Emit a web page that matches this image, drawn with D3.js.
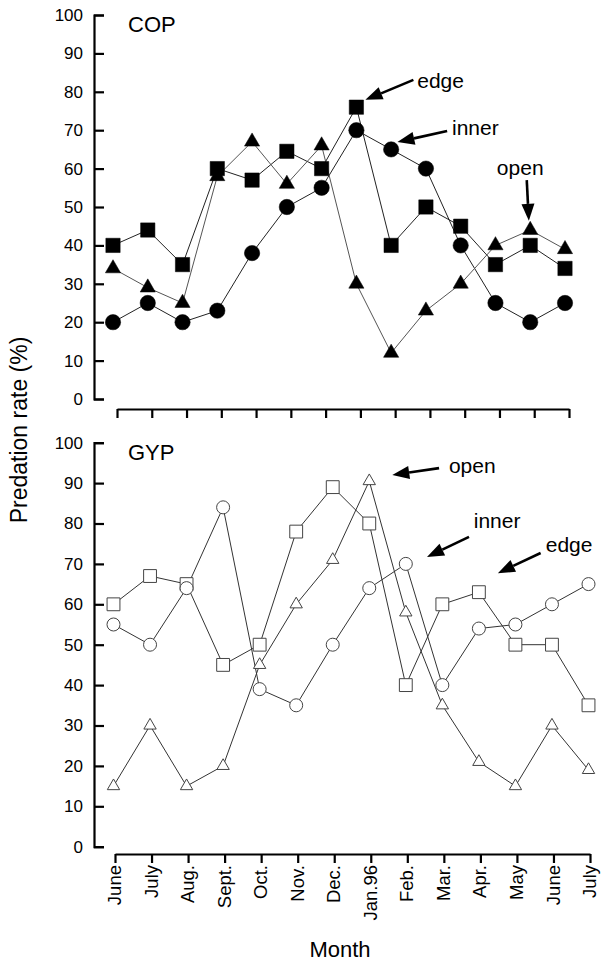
<html>
<head>
<meta charset="UTF-8">
<title>Predation rate</title>
<script src="https://cdnjs.cloudflare.com/ajax/libs/d3/7.8.5/d3.min.js"></script>
<style type="text/css">
    body { margin:0; background:#fff; }
    svg text { font-family: "Liberation Sans", Arial, Helvetica, sans-serif; fill:#000; }
    .axis path, .axis line { stroke:#000; stroke-width:2.2; }
    .axis text { font-size:17px; }
    .xlab text { font-size:18.5px; }
</style>
</head>
<body>
<svg id="chart" width="601" height="961"></svg>
<script>
    // months along the x axis (index based, June and July appear twice)
    var months = ["June","July","Aug.","Sept.","Oct.","Nov.","Dec.","Jan.96","Feb.","Mar.","Apr.","May","June","July"];
    var yTicks = [0,10,20,30,40,50,60,70,80,90,100];

    // COP, filled symbols
    var copEdge  = [40,44,35,60,57,64.5,60,76,40,50,45,35,40,34];
    var copInner = [20,25,20,23,38,50,55,70,65,60,40,25,20,25];
    var copOpen  = [34,29,25,58,67,56,66,30,12,23,30,40,44,39];

    // GYP, open symbols
    var gypEdge  = [60,67,65,45,50,78,89,80,40,60,63,50,50,35];
    var gypInner = [55,50,64,84,39,35,50,64,70,40,54,55,60,65];
    var gypOpen  = [15,30,15,20,45,60,71,90.5,58,35,21,15,30,19];

    // annotation arrows: [label, tail month idx, tail value, tip idx, tip value, text idx, text value]
    var copNotes = [
        ["edge",  8.64,83.1, 7.26,77.9, 8.75,81.0],
        ["inner", 9.61,69.8, 8.18,66.9, 9.75,68.75],
        ["open", 11.9,57.0, 11.96,46.4, 11.04,58.3]
    ];
    var gypNotes = [
        ["open",  8.91,93.7, 7.63,92.0, 9.18,92.5],
        ["inner", 9.73,76.7, 8.58,71.7, 9.86,78.9],
        ["edge", 11.69,72.7, 10.52,67.7, 11.83,72.9]
    ];

    var svg = d3.select("#chart");

    var panels = [
        {name:"COP", top:15, bottom:399, axisY:409, x0:117, x1:569, dx:-4, filled:true,
         series:[copEdge,copInner,copOpen], notes:copNotes, labels:false},
        {name:"GYP", top:442.7, bottom:846.7, axisY:854, x0:115, x1:590, dx:-1.5, filled:false,
         series:[gypEdge,gypInner,gypOpen], notes:gypNotes, labels:true}
    ];
    var shapes = [d3.symbolSquare, d3.symbolCircle, d3.symbolTriangle];

    function arrow(g, x1, y1, x2, y2){
        var a = Math.atan2(y2-y1, x2-x1), len = 17, w = 6.5;
        var bx = x2 - len*Math.cos(a), by = y2 - len*Math.sin(a);
        var px = -Math.sin(a)*w, py = Math.cos(a)*w;
        g.append("line").attr("x1",x1).attr("y1",y1).attr("x2",bx).attr("y2",by)
            .attr("stroke","#000").attr("stroke-width",2.6);
        g.append("path")
            .attr("d","M"+x2+","+y2+"L"+(bx+px)+","+(by+py)+"L"+(bx-px)+","+(by-py)+"Z")
            .attr("fill","#000");
    }

    panels.forEach(function(p){
        var x = d3.scalePoint().domain(d3.range(months.length)).range([p.x0, p.x1]).padding(0);
        var y = d3.scaleLinear().domain([0,100]).range([p.bottom, p.top]);
        // continuous x for annotations / markers
        var xs = function(i){ return p.x0 + p.dx + i*(p.x1-p.x0)/(months.length-1); };
        var g = svg.append("g");

        // y axis, ticks pointing inward
        g.append("g").attr("class","axis").attr("transform","translate(94,0)")
            .call(d3.axisLeft(y).tickValues(yTicks).tickSizeInner(-10).tickSizeOuter(-10).tickPadding(11));

        // x axis
        var xa = g.append("g").attr("class","axis xlab").attr("transform","translate(0,"+p.axisY+")")
            .call(d3.axisBottom(x).tickSizeInner(9).tickSizeOuter(0).tickFormat(function(i){ return months[i]; }));
        if(p.labels){
            xa.selectAll("text").attr("y",0).attr("x",-11).attr("dy","0.3em")
                .attr("text-anchor","end").attr("transform","rotate(-90)");
        } else {
            xa.selectAll("text").remove();
        }

        g.append("text").attr("x",128).attr("y",p.top+17).attr("font-size",22).text(p.name);

        // lines first
        var line = d3.line().x(function(d,i){ return xs(i); }).y(function(d){ return y(d); });
        p.series.forEach(function(s, k){
            g.append("path").datum(s).attr("d",line).attr("fill","none")
                .attr("stroke", p.filled ? (k==2 ? "#555" : "#222") : "#333")
                .attr("stroke-width", 1);
        });

        // then markers
        p.series.forEach(function(s, k){
            var size = p.filled ? [205,185,100][k] : [165,133,66][k];
            g.selectAll("path.m"+k).data(s).enter().append("path")
                .attr("class","m"+k)
                .attr("d", d3.symbol().type(shapes[k]).size(size))
                .attr("transform", function(d,i){ return "translate("+xs(i)+","+y(d)+")"; })
                .attr("fill", p.filled ? "#000" : "#fff")
                .attr("stroke", p.filled ? "#000" : "#444")
                .attr("stroke-width", p.filled ? 0.5 : 1);
        });

        // arrows and their words
        p.notes.forEach(function(n){
            arrow(g, xs(n[1]), y(n[2]), xs(n[3]), y(n[4]));
            g.append("text").attr("x", xs(n[5])).attr("y", y(n[6])).attr("font-size",21).text(n[0]);
        });
    });

    svg.append("text").attr("x",340).attr("y",957).attr("text-anchor","middle")
        .attr("font-size",22).text("Month");
    svg.append("text").attr("transform","translate(27,430) rotate(-90)").attr("text-anchor","middle")
        .attr("font-size",23).text("Predation rate (%)");
</script>
</body>
</html>
